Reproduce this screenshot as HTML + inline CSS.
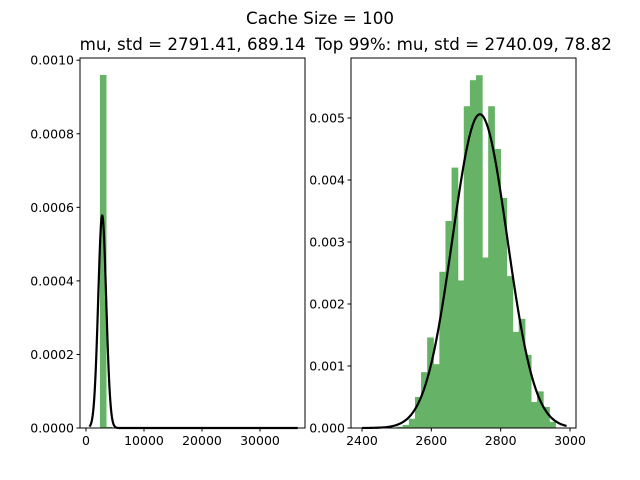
<!DOCTYPE html>
<html><head><meta charset="utf-8"><style>
body{margin:0;background:#fff;}
svg{display:block;font-family:"DejaVu Sans","Liberation Sans",sans-serif;}
</style></head><body>
<svg id="fig" width="640" height="480">
<text x="320" y="24" text-anchor="middle" font-size="16.7">Cache Size = 100</text>
<text x="192.5" y="50" text-anchor="middle" font-size="16.7">mu, std = 2791.41, 689.14</text>
<text x="463.5" y="50" text-anchor="middle" font-size="16.7">Top 99%: mu, std = 2740.09, 78.82</text>
<g id="L"></g>
<g id="R"></g>
</svg>
<script>
const leftBinStarts=[2400,3400,4400,5400];
const leftBinValues=[0.00096,0.000003,0.0000005,0.0000002];
const leftBinWidth=1030;
const leftMu=2791.41, leftStd=689.14;
const leftXTicks=[0,10000,20000,30000];
const leftXTickLabels=["0","10000","20000","30000"];
const leftYTicks=[0,0.0002,0.0004,0.0006,0.0008,0.0010];
const leftYTickLabels=["0.0000","0.0002","0.0004","0.0006","0.0008","0.0010"];

const rightBinStart=2500, rightBinWidth=17.6;
const rightBinValues=[0.00002,0.00005,0.00015,0.0005,0.0009,0.00146,0.00103,0.00252,0.00334,0.0042,0.00238,0.00519,0.00561,0.00569,0.00275,0.00519,0.0045,0.00371,0.00245,0.00155,0.00176,0.00118,0.00042,0.00059,0.00034,0.0001];
const rightMu=2740.09, rightStd=78.82;
const rightXTicks=[2400,2600,2800,3000];
const rightXTickLabels=["2400","2600","2800","3000"];
const rightYTicks=[0,0.001,0.002,0.003,0.004,0.005];
const rightYTickLabels=["0.000","0.001","0.002","0.003","0.004","0.005"];

const NS="http://www.w3.org/2000/svg";
function mk(p,t,a){const e=document.createElementNS(NS,t);for(const k in a)e.setAttribute(k,a[k]);p.appendChild(e);return e;}
function pdf(x,m,s){return Math.exp(-0.5*((x-m)/s)**2)/(s*Math.sqrt(2*Math.PI));}

function chart(g,box,xmin,xmax,ymax,bars,mu,sd,cx0,cx1,nPts,xt,xtl,yt,ytl,pfx){
  const X=v=>box.x+(v-xmin)/(xmax-xmin)*box.w;
  const Y=v=>box.y+box.h-v/ymax*box.h;
  bars.forEach((b,i)=>{
    const r=mk(g,'rect',{x:X(b[0]),y:Y(b[2]),width:X(b[0]+b[1])-X(b[0])+0.6,height:Y(0)-Y(b[2]),fill:'#66b266'});
    
    
  });
  let d='';
  for(let i=0;i<=nPts;i++){const x=cx0+(cx1-cx0)*i/nPts;d+=(i?'L':'M')+X(x).toFixed(2)+','+Y(pdf(x,mu,sd)).toFixed(2);}
  const c=mk(g,'path',{d:d,fill:'none',stroke:'#000','stroke-width':2.2,'stroke-linejoin':'round'});
  
  
  const fr=mk(g,'rect',{x:box.x,y:box.y,width:box.w,height:box.h,fill:'none',stroke:'#000','stroke-width':1});
  
  
  xt.forEach((v,i)=>{
    const x=X(v);
    mk(g,'line',{x1:x,x2:x,y1:box.y+box.h,y2:box.y+box.h+3.5,stroke:'#000'});
    const t=mk(g,'text',{x:x,y:box.y+box.h+17,'text-anchor':'middle','font-size':12.5});
    t.textContent=xtl[i];
    
    
  });
  yt.forEach((v,i)=>{
    const y=Y(v);
    mk(g,'line',{x1:box.x,x2:box.x-3.5,y1:y,y2:y,stroke:'#000'});
    const t=mk(g,'text',{x:box.x-6,y:y+4.5,'text-anchor':'end','font-size':12.5});
    t.textContent=ytl[i];
    
    
  });
}
const lb=leftBinStarts.map((s,i)=>[s,leftBinWidth,leftBinValues[i]]);
chart(document.getElementById('L'),{x:80,y:58,w:225,h:370},-1034,37760,0.001006,lb,leftMu,leftStd,600,36500,400,leftXTicks,leftXTickLabels,leftYTicks,leftYTickLabels,'left');
const rb=rightBinValues.map((v,i)=>[rightBinStart+i*rightBinWidth,rightBinWidth,v]);
chart(document.getElementById('R'),{x:351,y:58,w:225,h:370},2368.3,3017.3,0.005968,rb,rightMu,rightStd,2400,2990,120,rightXTicks,rightXTickLabels,rightYTicks,rightYTickLabels,'right');
</script>
</body></html>
